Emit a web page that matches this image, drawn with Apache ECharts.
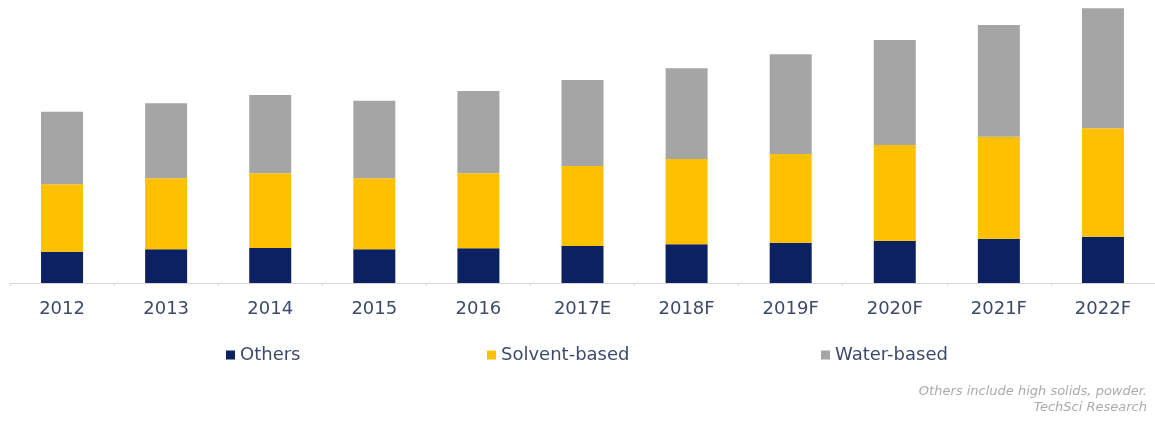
<!DOCTYPE html>
<html>
<head>
<meta charset="utf-8">
<script src="https://cdn.jsdelivr.net/npm/echarts@6/dist/echarts.min.js"></script>
<style>
  html, body { margin: 0; padding: 0; background: #fff; }
  #chart { width: 1155px; height: 421px; }
</style>
</head>
<body>
<div id="chart"></div>
<script>
// Данные (оценка по картинке)
const years = ['2012', '2013', '2014', '2015', '2016', '2017E', '2018F', '2019F', '2020F', '2021F', '2022F'];
const others = [31.3, 33.7, 35, 33.7, 34.7, 37, 38.7, 40.3, 42.3, 44.3, 46.3];
const solvent = [67.4, 71, 74.7, 71, 75, 80, 85.3, 88.7, 95.7, 102, 108.4];
const water = [72.6, 75, 78.3, 77.6, 82.3, 86, 90.7, 99.7, 105, 111.7, 120];
const footnotes = ['Others include high solids, powder.', 'TechSci Research'];

const textColor = '#3d4a6b';
const fontFamily = '"DejaVu Sans", Verdana, sans-serif';

const chart = echarts.init(document.getElementById('chart'));

// Легенда: три отдельных блока, как на исходнике
const legendItem = (name, left) => ({
    data: [name],
    left: left,
    top: 346,
    padding: 0,
    icon: 'rect',
    itemWidth: 9,
    itemHeight: 9,
    itemGap: 0,
    textStyle: { color: textColor, fontSize: 18, fontFamily: fontFamily }
});

const option = {
    animation: false,
    backgroundColor: '#ffffff',
    grid: { left: 10, width: 1150, top: 0, height: 283 },
    legend: [
        legendItem('Others', 226),
        legendItem('Solvent-based', 487),
        legendItem('Water-based', 821)
    ],
    xAxis: {
        type: 'category',
        data: years,
        axisLine: { lineStyle: { color: '#d6d6d6', width: 1 } },
        axisTick: { show: true, length: 3, lineStyle: { color: '#d6d6d6' } },
        axisLabel: { color: textColor, fontSize: 18, fontFamily: fontFamily, margin: 17 }
    },
    yAxis: {
        type: 'value',
        min: 0,
        max: 283,
        show: false,
        splitLine: { show: false }
    },
    series: [
        { name: 'Others', type: 'bar', stack: 'total', barWidth: 42, data: others, itemStyle: { color: '#0b2161' } },
        { name: 'Solvent-based', type: 'bar', stack: 'total', barWidth: 42, data: solvent, itemStyle: { color: '#ffc000' } },
        { name: 'Water-based', type: 'bar', stack: 'total', barWidth: 42, data: water, itemStyle: { color: '#a5a5a5' } }
    ],
    graphic: footnotes.map((t, i) => ({
        type: 'text',
        right: 8,
        top: 385 + i * 16,
        style: {
            text: t,
            fill: '#ababab',
            font: 'italic 13px ' + fontFamily,
            textAlign: 'right'
        }
    }))
};

chart.setOption(option);
</script>
</body>
</html>
